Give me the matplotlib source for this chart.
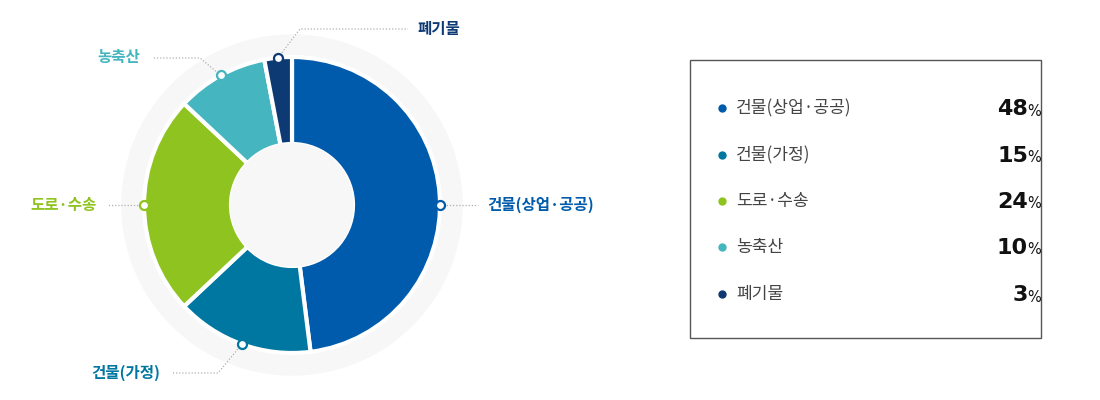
import numpy as np
import matplotlib.pyplot as plt
from matplotlib.patches import Circle, Rectangle

plt.rcParams['font.family'] = ['Noto Sans CJK KR', 'DejaVu Sans']

# ---------------- Data ----------------
labels = ['건물(상업·공공)', '건물(가정)', '도로·수송', '농축산', '폐기물']
values = [48, 15, 24, 10, 3]
colors = ['#005bac', '#0077a0', '#8fc31f', '#45b5c0', '#0d3a73']

# ---------------- Layout (pixel space, y measured from top) ----------------
W, H = 1100, 400
cx, cy = 292, 205
r_out, r_in = 148, 61

def py(y):
    return H - y

fig = plt.figure(figsize=(11, 4), dpi=100)
ax = fig.add_axes([0, 0, 1, 1])
ax.set_xlim(0, W)
ax.set_ylim(0, H)
ax.set_aspect('equal')
ax.axis('off')

# light background disc behind the donut
ax.add_patch(Circle((cx, py(cy)), 170, color='#f7f7f8', zorder=0))

ax.pie(values, colors=colors, startangle=90, counterclock=False,
       radius=r_out, center=(cx, py(cy)),
       wedgeprops=dict(width=r_out - r_in, edgecolor='white', linewidth=3))
ax.add_patch(Circle((cx, py(cy)), r_in, color='#f7f7f8', zorder=3))
ax.set_xlim(0, W)
ax.set_ylim(0, H)

# midpoint angle of each slice (clockwise from top); the first label
# marker sits on the horizontal in the original
cum = np.cumsum(values) - np.array(values) / 2
theta = np.deg2rad(90 - cum / sum(values) * 360)
theta[0] = 0.0
dots = [(cx + r_out * np.cos(t), py(cy) + r_out * np.sin(t)) for t in theta]

# leader line bend points and label anchors (pixels)
leaders = [
    [(478, 205)],
    [(218, 373), (172, 373)],
    [(108, 205)],
    [(200, 58), (152, 58)],
    [(300, 29), (408, 29)],
]
label_pos = [(487, 205, 'left'), (160, 373, 'right'), (97, 205, 'right'),
             (140, 57, 'right'), (417, 29, 'left')]

for i, (dx, dy) in enumerate(dots):
    xs = [dx] + [p[0] for p in leaders[i]]
    ys = [dy] + [py(p[1]) for p in leaders[i]]
    ax.plot(xs, ys, color='#b0b0b0', lw=0.9, ls=(0, (1, 1.5)), zorder=4)
    ax.plot(dx, dy, 'o', ms=6.5, mfc='white', mec=colors[i], mew=1.6, zorder=6)
    lx, ly, ha = label_pos[i]
    ax.text(lx, py(ly), labels[i], color=colors[i], fontsize=11.2,
            fontweight='bold', ha=ha, va='center', zorder=6)

# ---------------- Legend box ----------------
ax.add_patch(Rectangle((690, py(338)), 351, 278, fill=False,
                       edgecolor='#555555', lw=1, zorder=2))
row_y = [108, 155, 201, 247, 294]
for i, yy in enumerate(row_y):
    ax.plot(722, py(yy), 'o', ms=5, color=colors[i], zorder=5)
    ax.text(736, py(yy), labels[i], color='#444444', fontsize=12.3,
            ha='left', va='center')
    ax.text(1028, py(yy) - 1, str(values[i]), color='#111111', fontsize=16,
            fontweight='bold', family=['DejaVu Sans'],
            ha='right', va='center')
    ax.text(1041, py(yy) - 3, '%', color='#111111', fontsize=10.5,
            family=['DejaVu Sans'], ha='right', va='center')

fig.savefig('out.png', dpi=100)
